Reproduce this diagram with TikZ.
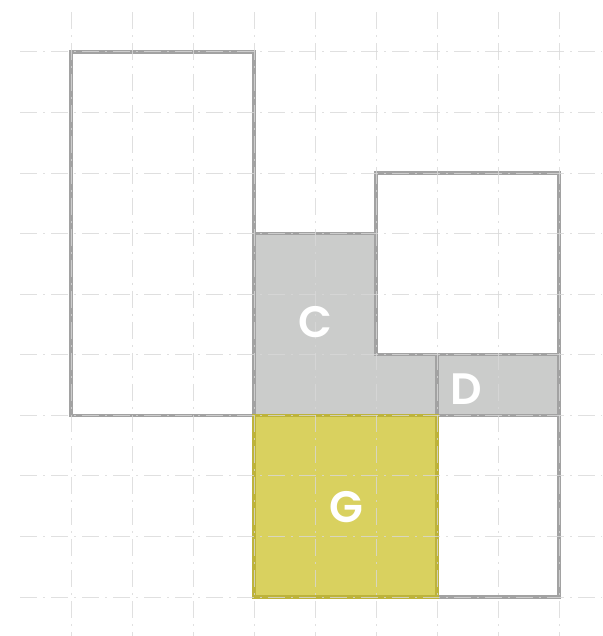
\documentclass[tikz,border=0pt]{standalone}
\usepackage{fontspec}
\setmainfont{Poppins}[BoldFont={Poppins SemiBold}]
\usepackage{tikz}
\usetikzlibrary{positioning}
\definecolor{gridgrey}{HTML}{D8D8D8}
\definecolor{edge}{HTML}{A2A2A2}
\definecolor{stone}{HTML}{CBCCCB}
\definecolor{gold}{HTML}{D9D15F}
\definecolor{goldedge}{HTML}{BDB33B}
\tikzset{
  guide/.style={draw=gridgrey,line width=.9pt,opacity=.8,dash pattern=on 17pt off 6pt on 2pt off 6pt},
  parcel/.style={fill=white,draw=edge,line width=3.2pt,line join=miter},
  parcelgrey/.style={parcel,fill=stone},
  parcelgold/.style={parcel,fill=gold,draw=goldedge},
  tag/.style={text=white,font=\bfseries\fontsize{44}{44}\selectfont,inner sep=0pt}
}

\begin{document}
\begin{tikzpicture}[x=61pt,y=60.56pt]
  \useasboundingbox (-1.164,-0.644) rectangle (8.705,9.858);
  \draw[parcel] (0,3) rectangle (3,9);
  \draw[parcel] (5,4) rectangle (8,7);
  \draw[parcel] (6,0) rectangle (8,3);
  \draw[parcelgrey] (3,3) -- (3,6) -- (5,6) -- (5,4) -- (6,4) -- (6,3) -- cycle;
  \draw[parcelgrey] (6,3) rectangle (8,4);
  \draw[parcelgold] (3,0) rectangle (6,3);
  \foreach \i in {0,...,8}
    \draw[guide] (\i,9.66) -- (\i,-0.644);
  \foreach \j in {0,...,9}
    \draw[guide] (-0.836,\j) -- (8.705,\j);
  \node[tag] (c) at (4,4.54) {C};
  \node[tag] (d) at (6.48,3.43) {D};
  \node[tag] (g) at (4.51,1.49) {G};
\end{tikzpicture}
\end{document}
